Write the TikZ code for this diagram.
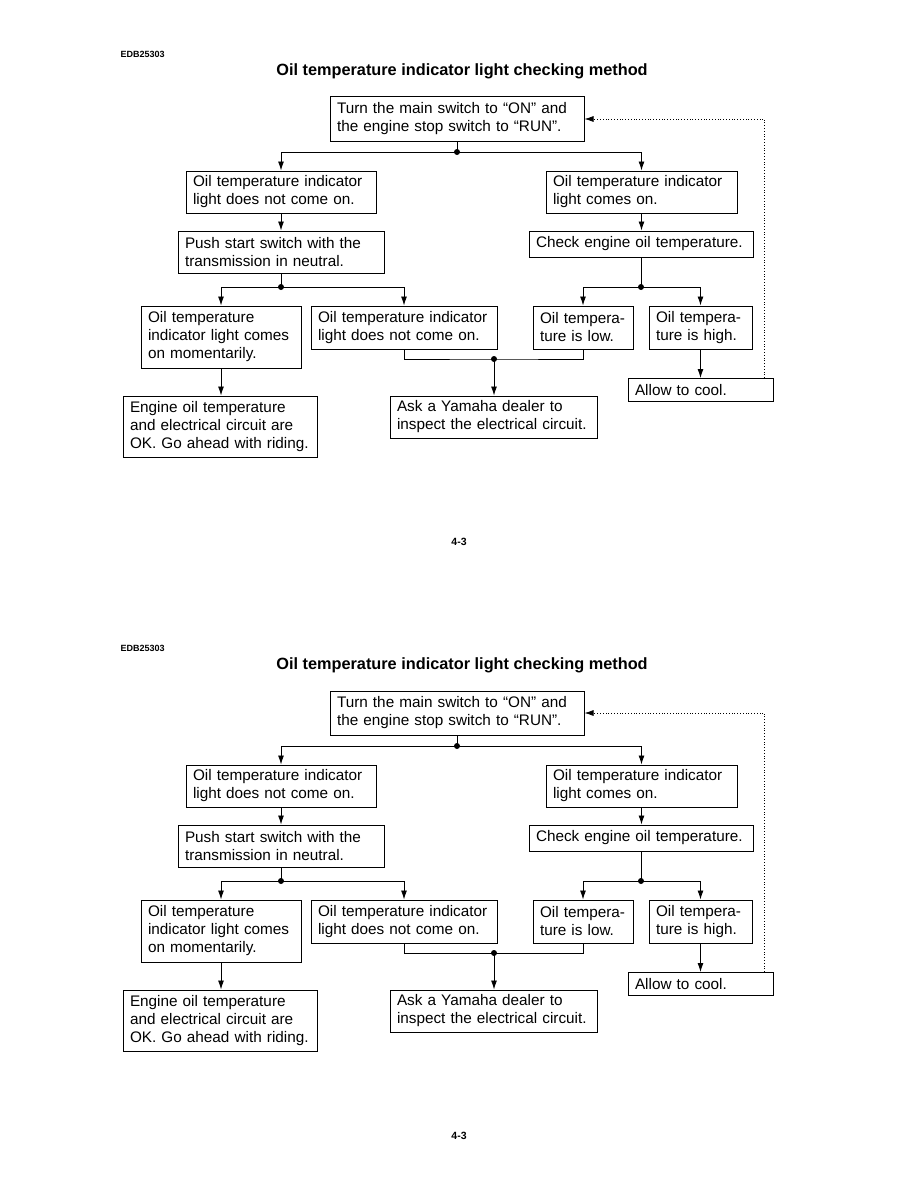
\documentclass[tikz,border=0pt]{standalone}
\usepackage{fontspec}
\setmainfont{Liberation Sans}
\usetikzlibrary{arrows.meta, positioning}

\tikzset{
  box/.style={draw, line width=1pt, align=left, inner xsep=7pt, inner ysep=3pt,
    font=\fontsize{15.3}{18}\selectfont},
  arr/.style={line width=0.9pt, -{Latex[length=9pt,width=6pt]}},
  link/.style={line width=0.9pt},
  loopback/.style={line width=0.8pt, dotted, -{Latex[length=9pt,width=6pt]}},
  junction/.style={fill=black},
}

\begin{document}
\begin{tikzpicture}[x=1pt, y=-1pt]
  \useasboundingbox (0,0) rectangle (918,1188);
  \fill[white] (0,0) rectangle (918,1188);

  % the same page printed twice, one above the other
  \foreach \page in {0,594} {
    \begin{scope}[yshift=-\page pt]
      \node[anchor=west, font=\bfseries\fontsize{9}{10}\selectfont] (code) at (117,54) {EDB25303};
      \node[font=\bfseries\fontsize{16.3}{18}\selectfont] (title) at (462,71)
        {Oil temperature indicator light checking method};
      \node[font=\bfseries\fontsize{10.5}{12}\selectfont] (pageno) at (459,542) {4-3};

      % boxes
      \node[box, text width=240pt, minimum height=44pt] (turn) at (457,119)
        {Turn the main switch to “ON” and\\the engine stop switch to “RUN”.};
      \node[box, text width=176pt, minimum height=42pt] (nolight) at (281,192)
        {Oil temperature indicator\\light does not come on.};
      \node[box, text width=177pt, minimum height=42pt] (comeson) at (641.5,192)
        {Oil temperature indicator\\light comes on.};
      \node[box, text width=192pt, minimum height=42pt] (push) at (281,252)
        {Push start switch with the\\transmission in neutral.};
      \node[box, text width=210pt, minimum height=26pt] (check) at (641,244)
        {Check engine oil temperature.};
      \node[box, text width=146pt, minimum height=62pt] (moment) at (221,337)
        {Oil temperature\\indicator light comes\\on momentarily.};
      \node[box, text width=172pt, minimum height=43pt] (nocome) at (404,327.5)
        {Oil temperature indicator\\light does not come on.};
      \node[box, text width=86pt, minimum height=43pt] (low) at (583,327.5)
        {Oil tempera-\\ture is low.};
      \node[box, text width=89pt, minimum height=43pt] (high) at (700.5,327.5)
        {Oil tempera-\\ture is high.};
      \node[box, text width=131pt, minimum height=23pt] (allow) at (700.5,390)
        {Allow to cool.};
      \node[box, text width=180pt, minimum height=61pt] (engine) at (220,426.5)
        {Engine oil temperature\\and electrical circuit are\\OK. Go ahead with riding.};
      \node[box, text width=193pt, minimum height=42pt] (ask) at (493.5,417)
        {Ask a Yamaha dealer to\\inspect the electrical circuit.};

      % connectors
      \coordinate (j1) at (457,152);
      \coordinate (j2) at (281,287);
      \coordinate (j3) at (641,287);
      \coordinate (j4) at (494,359);
      \draw[link] (turn.south) -- (j1);
      \draw[arr] (j1) -| (nolight.north);
      \draw[arr] (j1) -| (comeson.north);
      \draw[arr] (nolight.south) -- (push.north);
      \draw[arr] (comeson.south) -- (comeson.south |- check.north);
      \draw[link] (push.south) -- (j2);
      \draw[arr] (j2) -| (moment.north);
      \draw[arr] (j2) -| (nocome.north);
      \draw[link] (check.south) -- (j3);
      \draw[arr] (j3) -| (low.north);
      \draw[arr] (j3) -| (high.north);
      \draw[link] (nocome.south) |- (j4) -| (low.south);
      \draw[arr] (j4) -- (j4 |- ask.north);
      \draw[arr] (moment.south) -- (moment.south |- engine.north);
      \draw[arr] (high.south) -- (allow.north);
      \draw[loopback] ([xshift=-9pt]allow.north east) |- (turn.east);
      \foreach \j in {j1,j2,j3,j4}
        \fill[junction] (\j) circle (3pt);
    \end{scope}
  }
\end{tikzpicture}
\end{document}
